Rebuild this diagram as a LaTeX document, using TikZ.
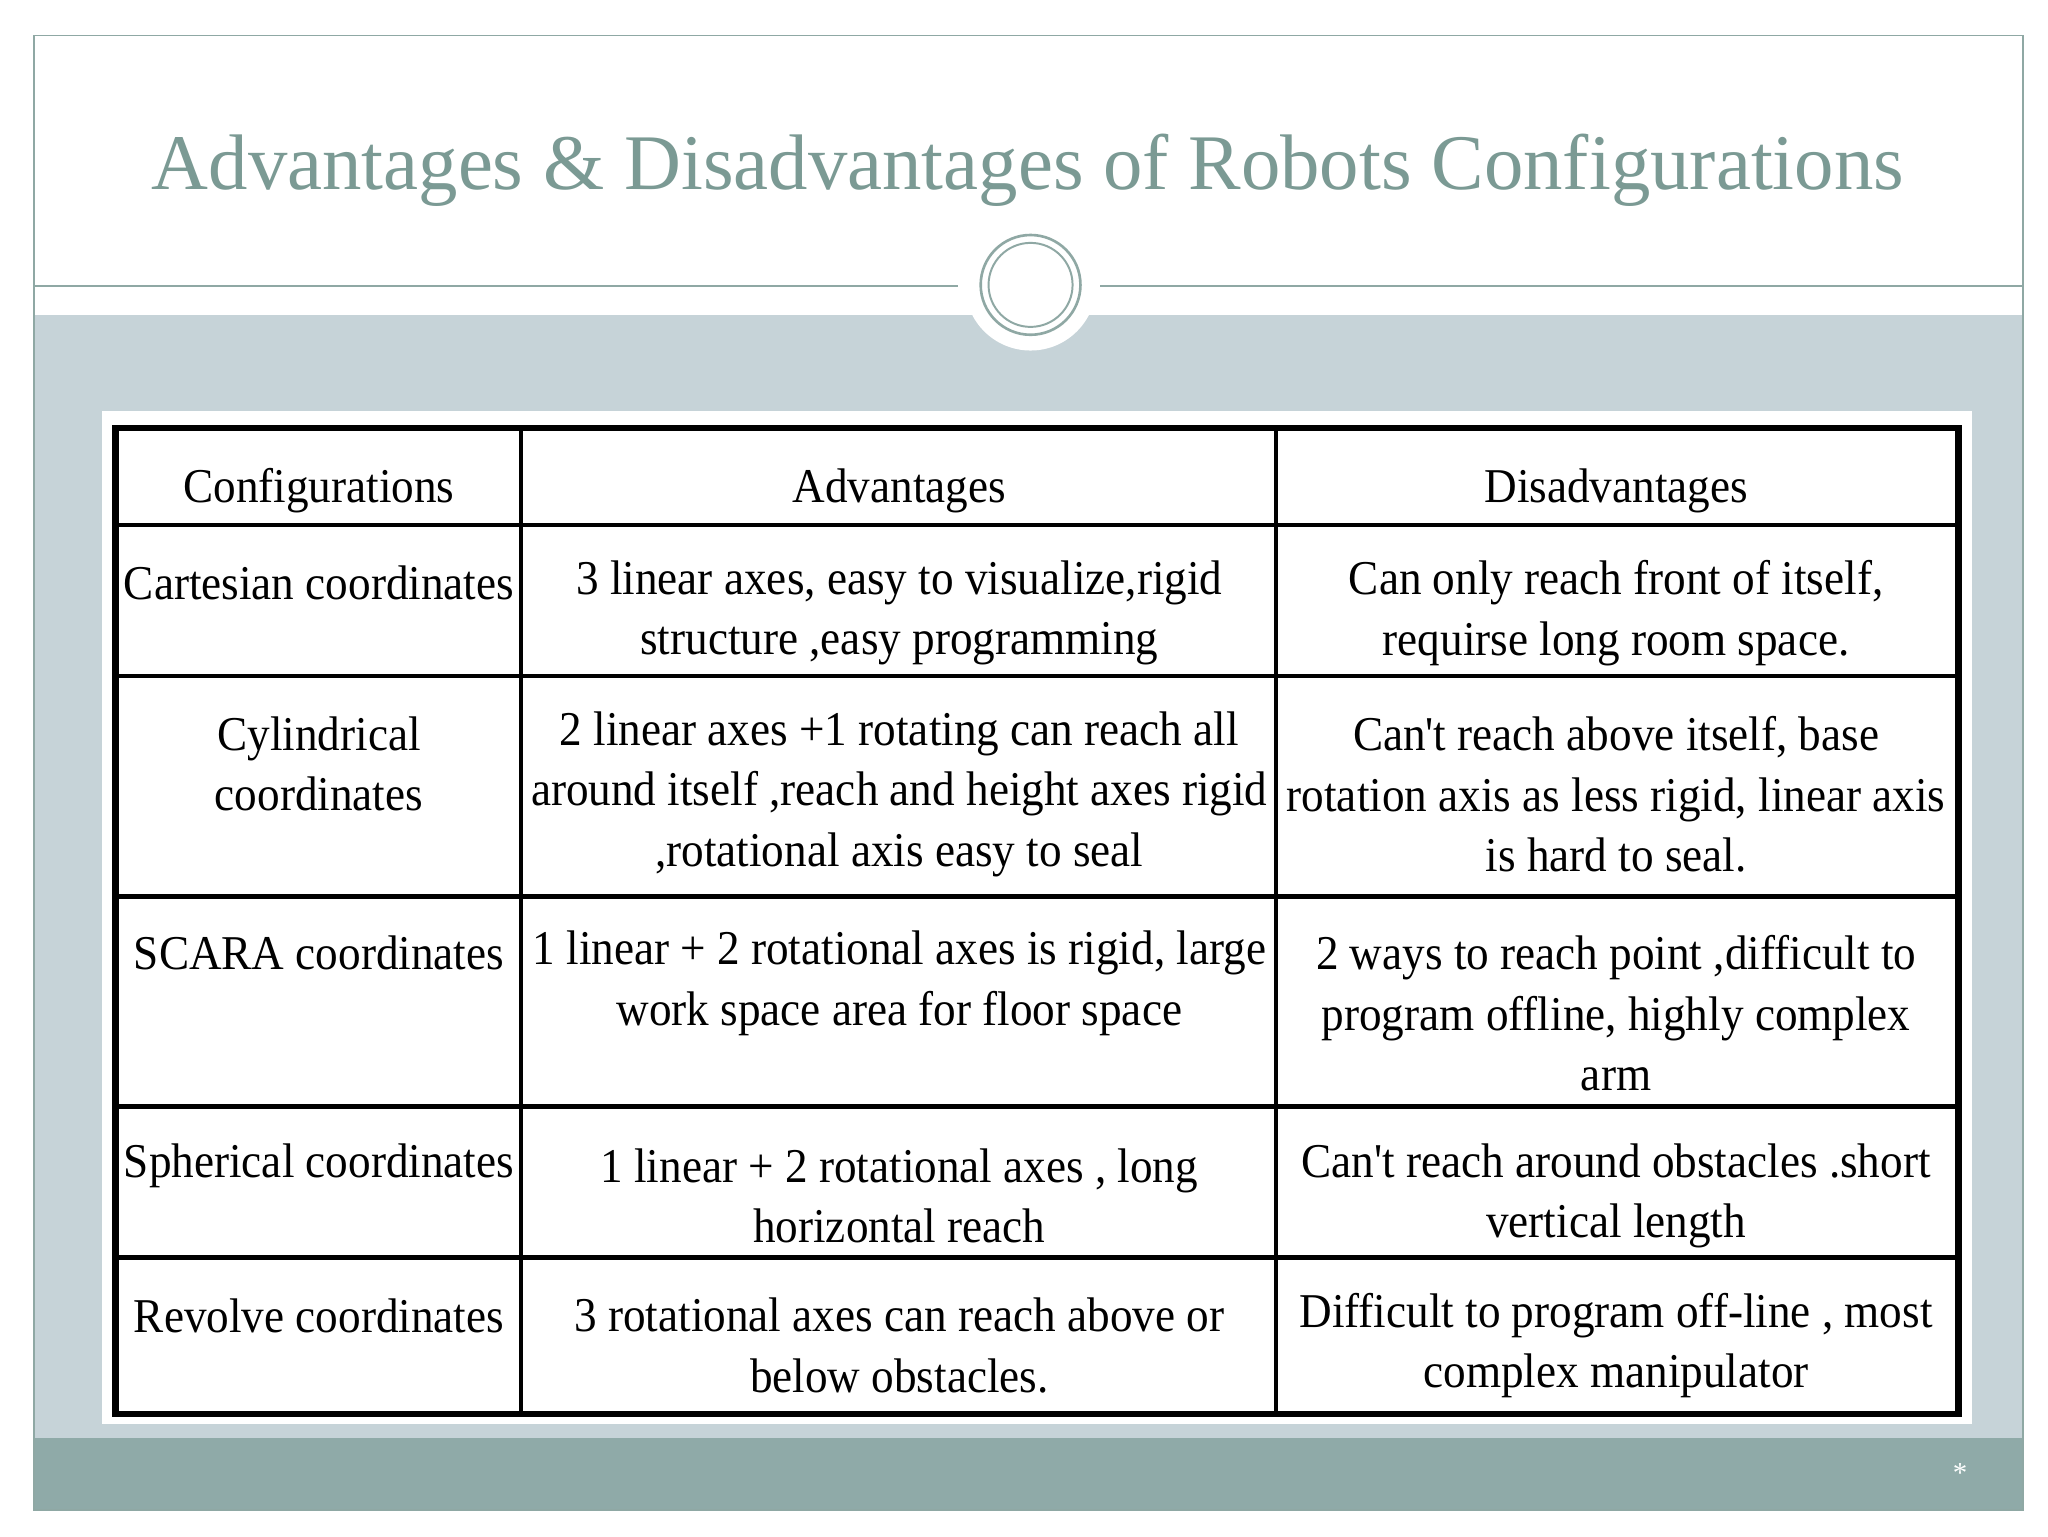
\documentclass[tikz,border=0pt]{standalone}
\usepackage{fontspec}
\setmainfont{Liberation Serif}
\newfontfamily\tabfont[FakeStretch=0.93]{Liberation Serif}
\definecolor{titlec}{HTML}{7B9A94}
\definecolor{bgc}{HTML}{C6D3D8}
\definecolor{footc}{HTML}{8FAAA8}
\definecolor{framec}{HTML}{8FA8A4}
\begin{document}
\begin{tikzpicture}[x=1pt,y=-1pt,
  cell/.style={align=center,font=\tabfont\fontsize{37}{46}\selectfont,inner sep=0pt}]
\useasboundingbox (0,0) rectangle (1560,1170);
\fill[white] (0,0) rectangle (1560,1170);
\fill[bgc] (26,240) rectangle (1541,1095);
\fill[footc] (26,1095) rectangle (1541,1150);
\draw[framec,line width=1.2] (26,27) rectangle (1541,1150);
\draw[framec,line width=1.2] (26,218) -- (730,218) (838,218) -- (1541,218);
\fill[white] (785,217) circle (50);
\draw[framec,line width=2] (785,217) circle (38);
\draw[framec,line width=1.5] (785,217) circle (32);
\node[font=\fontsize{60}{70}\selectfont,text=titlec] (title) at (783,130) {Advantages \& Disadvantages of Robots Configurations};
\node[white,font=\fontsize{22}{22}\selectfont] (star) at (1493,1122) {*};
\fill[white] (78,313) rectangle (1502,1085);
\draw[line width=5] (88,326) rectangle (1492,1077);
\foreach \y in {400,515,683,843,958} \draw[line width=3.5] (88,\y) -- (1492,\y);
\draw[line width=3] (397,326) -- (397,1077) (972,326) -- (972,1077);
\node[cell] (h1) at (243,374) {Configurations};
\node[cell] (h2) at (685,374) {Advantages};
\node[cell] (h3) at (1231,374) {Disadvantages};
\node[cell] (c1) at (243,444) {Cartesian coordinates};
\node[cell] (a1) at (685,467) {3 linear axes, easy to visualize,rigid\\structure ,easy programming};
\node[cell] (d1) at (1231,467) {Can only reach front of itself,\\requirse long room space.};
\node[cell] (c2) at (243,582) {Cylindrical\\coordinates};
\node[cell] (a2) at (685,605) {2 linear axes +1 rotating can reach all\\around itself ,reach and height axes rigid\\,rotational axis easy to seal};
\node[cell] (d2) at (1231,605) {Can't reach above itself, base\\rotation axis as less rigid, linear axis\\is hard to seal.};
\node[cell] (c3) at (243,726) {SCARA coordinates};
\node[cell] (a3) at (685,749) {1 linear + 2 rotational axes is rigid, large\\work space area for floor space};
\node[cell] (d3) at (1231,772) {2 ways to reach point ,difficult to\\program offline, highly complex\\arm};
\node[cell] (c4) at (243,888) {Spherical coordinates};
\node[cell] (a4) at (685,911) {1 linear + 2 rotational axes , long\\horizontal reach};
\node[cell] (d4) at (1231,911) {Can't reach around obstacles .short\\vertical length};
\node[cell] (c5) at (243,1002) {Revolve coordinates};
\node[cell] (a5) at (685,1025) {3 rotational axes can reach above or\\below obstacles.};
\node[cell] (d5) at (1231,1025) {Difficult to program off-line , most\\complex manipulator};
\end{tikzpicture}
\end{document}
